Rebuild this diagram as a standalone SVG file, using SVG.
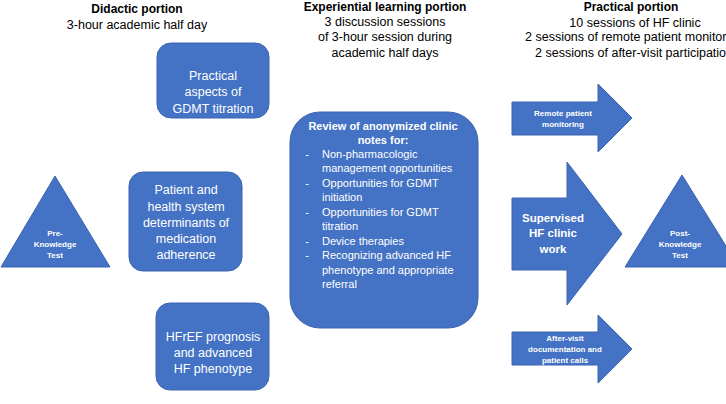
<svg xmlns="http://www.w3.org/2000/svg" width="726" height="404" viewBox="0 0 726 404">
<style>
.shape{fill:#4472C4;stroke:#3A64B0;stroke-width:1}
.h{font-family:"Liberation Sans",Arial,sans-serif;fill:#000;text-anchor:middle}
.hb{font-weight:bold;font-size:12px}
.hr{font-size:12.5px}
.t{font-family:"Liberation Sans",Arial,sans-serif;fill:#fff;text-anchor:middle}
.box{font-size:12.5px}
.small{font-size:8px;font-weight:bold}
.mid{font-size:11px}
.b{font-weight:bold}
.l{text-anchor:start}
</style>
<rect width="726" height="404" fill="#fff"/>
<g id="headers">
<text class="h hb" x="137" y="13">Didactic portion</text>
<text class="h hr" x="137" y="29">3-hour academic half day</text>
<text class="h hb" x="385" y="10.5">Experiential learning portion</text>
<text class="h hr" x="385" y="26">3 discussion sessions</text>
<text class="h hr" x="385" y="41">of 3-hour session during</text>
<text class="h hr" x="385" y="56.5">academic half days</text>
<text class="h hb" x="631" y="10.5">Practical portion</text>
<text class="h hr" x="635" y="26.5">10 sessions of HF clinic</text>
<text class="h hr l" x="525" y="41">2 sessions of remote patient monitoring</text>
<text class="h hr l" x="535" y="56.5">2 sessions of after-visit participation</text>
</g>
<g id="pre-test">
<polygon class="shape" points="55,176 1,267 110,267"/>
<text class="t small" x="55" y="236">Pre-</text>
<text class="t small" x="55" y="247">Knowledge</text>
<text class="t small" x="55" y="258">Test</text>
</g>
<g id="practical-aspects">
<rect class="shape" x="157" y="43" width="112" height="75" rx="14"/>
<text class="t box" x="213" y="79.5">Practical</text>
<text class="t box" x="213" y="96">aspects of</text>
<text class="t box" x="213" y="112.5">GDMT titration</text>
</g>
<g id="patient-determinants">
<rect class="shape" x="129" y="172" width="113" height="99" rx="14"/>
<text class="t box" x="186" y="194">Patient and</text>
<text class="t box" x="186" y="210.5">health system</text>
<text class="t box" x="186" y="227">determinants of</text>
<text class="t box" x="186" y="243">medication</text>
<text class="t box" x="186" y="259">adherence</text>
</g>
<g id="hfref">
<rect class="shape" x="156" y="303" width="113" height="87" rx="14"/>
<text class="t box" x="213" y="340.5">HFrEF prognosis</text>
<text class="t box" x="213" y="357">and advanced</text>
<text class="t box" x="213" y="373">HF phenotype</text>
</g>
<g id="review">
<rect class="shape" x="290" y="112" width="188" height="216" rx="30"/>
<text class="t mid b" x="383" y="129.5">Review of anonymized clinic</text>
<text class="t mid b" x="383" y="143.5">notes for:</text>
<g class="t mid">
<text x="307" y="157.5">-</text>
<text class="l" x="322" y="157.5">Non-pharmacologic</text>
<text class="l" x="322" y="172">management opportunities</text>
<text x="307" y="186.5">-</text>
<text class="l" x="322" y="186.5">Opportunities for GDMT</text>
<text class="l" x="322" y="201">initiation</text>
<text x="307" y="215.5">-</text>
<text class="l" x="322" y="215.5">Opportunities for GDMT</text>
<text class="l" x="322" y="230">titration</text>
<text x="307" y="244.5">-</text>
<text class="l" x="322" y="244.5">Device therapies</text>
<text x="307" y="259">-</text>
<text class="l" x="322" y="259">Recognizing advanced HF</text>
<text class="l" x="322" y="273.5">phenotype and appropriate</text>
<text class="l" x="322" y="288">referral</text>
</g>
</g>
<g id="remote-monitoring">
<polygon class="shape" points="512,102 598,102 598,84 632,118 598,152 598,135 512,135"/>
<text class="t small" x="563" y="116">Remote patient</text>
<text class="t small" x="563" y="127">monitoring</text>
</g>
<g id="supervised-clinic">
<polygon class="shape" points="512,198 567,198 567,162 622,234 567,305 567,270 512,270"/>
<text class="t b" style="font-size:11.5px" x="553" y="221.5">Supervised</text>
<text class="t b" style="font-size:11.5px" x="553" y="237">HF clinic</text>
<text class="t b" style="font-size:11.5px" x="553" y="253">work</text>
</g>
<g id="after-visit">
<polygon class="shape" points="512,332 598,332 598,315 632,349 598,383 598,365 512,365"/>
<text class="t small" x="565" y="341">After-visit</text>
<text class="t small" x="565" y="352">documentation and</text>
<text class="t small" x="565" y="363">patient calls</text>
</g>
<g id="post-test">
<polygon class="shape" points="682,175 625,267 739,267"/>
<text class="t small" x="680" y="236">Post-</text>
<text class="t small" x="680" y="247">Knowledge</text>
<text class="t small" x="680" y="258">Test</text>
</g>
<g id="connectors"/>
</svg>
